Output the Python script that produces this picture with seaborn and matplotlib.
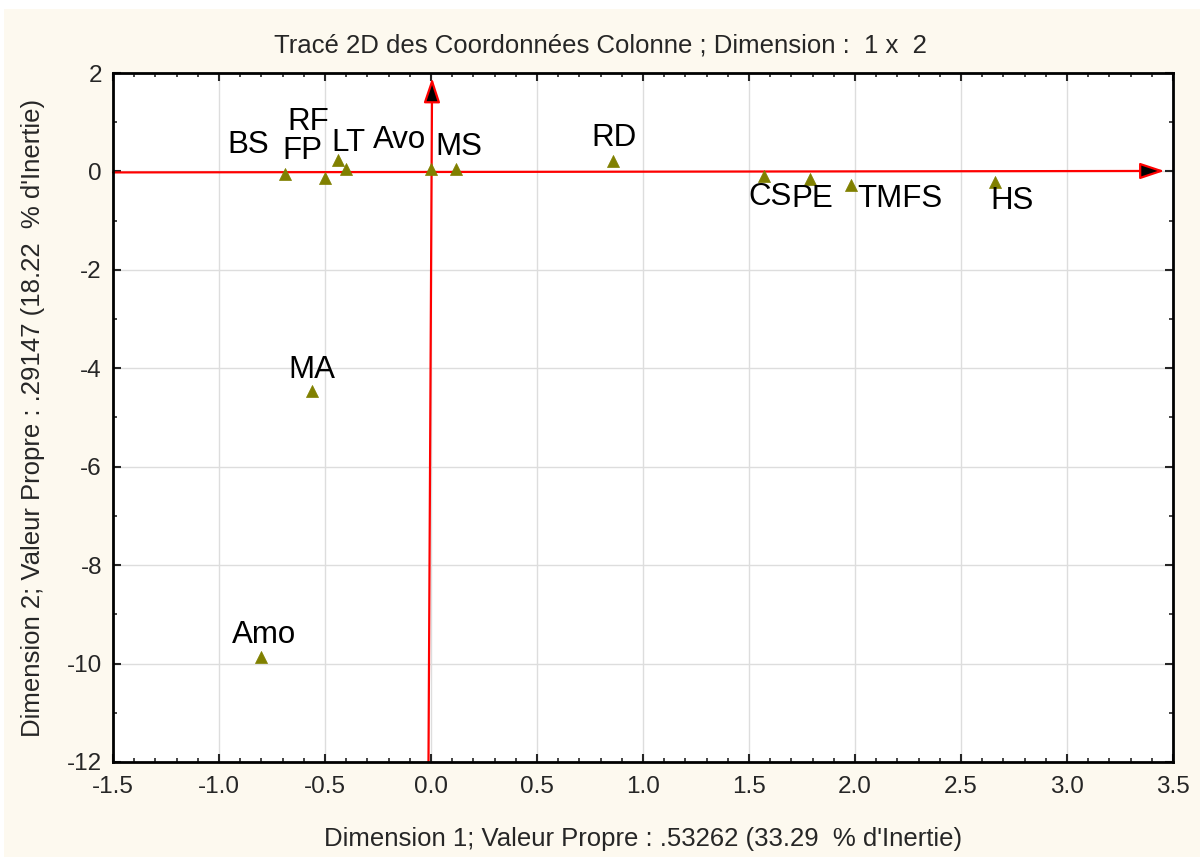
import pandas as pd
import matplotlib.pyplot as plt
import seaborn as sns
from matplotlib.ticker import MultipleLocator, FormatStrFormatter
from matplotlib.patches import Rectangle

# column coordinates
labels = ['BS', 'FP', 'RF', 'LT', 'Avo', 'MS', 'RD', 'CS', 'PE', 'TMFS', 'HS', 'MA', 'Amo']
dim1 = [-0.69, -0.50, -0.44, -0.40, 0.00, 0.12, 0.86, 1.57, 1.79, 1.98, 2.66, -0.56, -0.80]
dim2 = [-0.05, -0.13, 0.23, 0.05, 0.05, 0.05, 0.21, -0.09, -0.15, -0.28, -0.21, -4.46, -9.86]

# label offsets (pixels) so the names sit like in the original
offsets = {'BS': (-37, 29), 'FP': (-23, 27), 'RF': (-30, 38), 'LT': (2, 26),
           'Avo': (-31, 29), 'MS': (2, 22), 'RD': (1, 23), 'CS': (6, -21),
           'PE': (2, -20), 'TMFS': (49, -14), 'HS': (17, -19), 'MA': (0, 21),
           'Amo': (3, 22)}

df = pd.DataFrame({'label': labels, 'dim1': dim1, 'dim2': dim2})

sns.set_style('ticks')
plt.rcParams['font.family'] = ['Liberation Sans', 'DejaVu Sans']
plt.rcParams['axes.unicode_minus'] = False

bg = '#fdf9ef'
fig = plt.figure(figsize=(12, 8.57), dpi=100, facecolor='white')
fig.patches.append(Rectangle((0.003, 0), 0.997, 0.99, transform=fig.transFigure,
                             facecolor=bg, edgecolor='none', zorder=-10))
ax = fig.add_axes([0.0942, 0.1109, 0.8833, 0.8039])
ax.set_facecolor('white')

ax.grid(True, color='#dddddd', linewidth=1)
ax.set_axisbelow(True)

# red axes arrows
arrow = dict(arrowstyle='-|>,head_length=1.5,head_width=0.5', fc='black', ec='red',
             lw=1.6, shrinkA=0, shrinkB=0)
ax.annotate('', xy=(3.46, 0.01), xytext=(-1.5, -0.02), arrowprops=arrow, zorder=2)
ax.annotate('', xy=(0.005, 1.9), xytext=(-0.012, -12), arrowprops=arrow, zorder=2)

sns.scatterplot(data=df, x='dim1', y='dim2', marker='^', s=75, color='#808000',
                edgecolor='#808000', linewidth=0.5, ax=ax, zorder=3)

for lab, x, y in zip(labels, dim1, dim2):
    ax.annotate(lab, (x, y), xytext=offsets[lab], textcoords='offset pixels',
                ha='center', va='center', fontsize=22.5, color='black', zorder=4)

ax.set_xlim(-1.5, 3.5)
ax.set_ylim(-12, 2)
ax.xaxis.set_major_locator(MultipleLocator(0.5))
ax.xaxis.set_minor_locator(MultipleLocator(0.1))
ax.xaxis.set_major_formatter(FormatStrFormatter('%.1f'))
ax.yaxis.set_major_locator(MultipleLocator(2))
ax.yaxis.set_minor_locator(MultipleLocator(1))
ax.tick_params(which='both', direction='in', top=True, right=True, labelsize=17.5)
ax.tick_params(axis='x', which='major', pad=10)
ax.tick_params(axis='y', which='major', pad=8)
ax.tick_params(which='major', length=6, width=1.5)
ax.tick_params(which='minor', length=3, width=1.2)
for sp in ax.spines.values():
    sp.set_linewidth(2)
    sp.set_color('black')

fig.text(0.5, 0.947, 'Tracé 2D des Coordonnées Colonne ; Dimension :  1 x  2',
         ha='center', va='center', fontsize=18.5)
ax.set_xlabel("Dimension 1; Valeur Propre : .53262 (33.29  % d'Inertie)", fontsize=18.5)
ax.set_ylabel("Dimension 2; Valeur Propre : .29147 (18.22  % d'Inertie)", fontsize=18.5)
ax.xaxis.set_label_coords(0.5, -0.094)
ax.yaxis.set_label_coords(-0.064, 0.5)

fig.savefig('out.png', dpi=100, facecolor='white')
